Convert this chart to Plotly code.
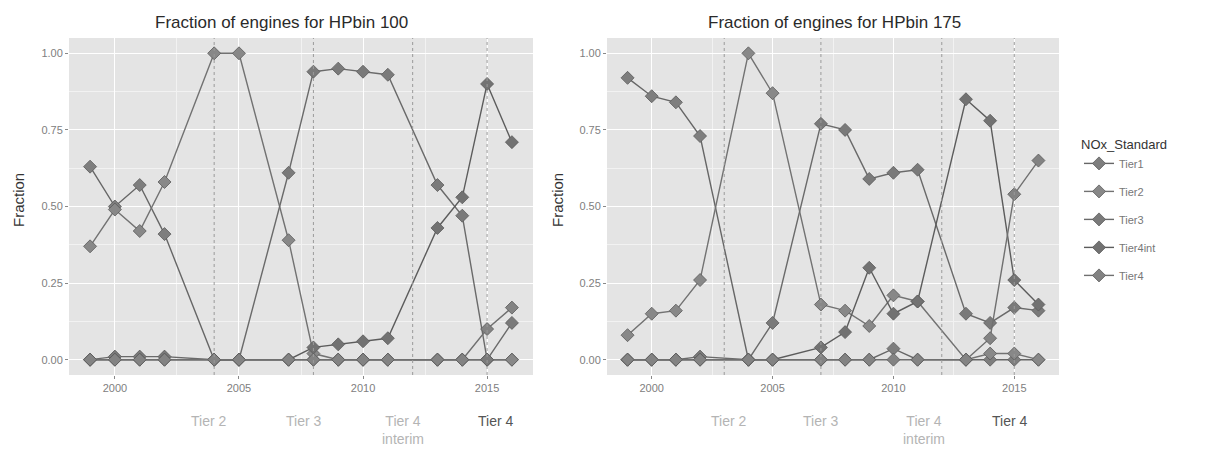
import plotly.graph_objects as go

# ---------------- data ----------------
years = [1999, 2000, 2001, 2002, 2004, 2005, 2007, 2008, 2009, 2010, 2011, 2013, 2014, 2015, 2016]
series_names = ["Tier1", "Tier2", "Tier3", "Tier4int", "Tier4"]

# HPbin 100
hp100_tier1 = [0.63, 0.50, 0.57, 0.41, 0.00, 0.00, 0.00, 0.00, 0.00, 0.00, 0.00, 0.00, 0.00, 0.00, 0.00]
hp100_tier2 = [0.37, 0.49, 0.42, 0.58, 1.00, 1.00, 0.39, 0.02, 0.00, 0.00, 0.00, 0.00, 0.00, 0.00, 0.00]
hp100_tier3 = [0.00, 0.01, 0.01, 0.01, 0.00, 0.00, 0.61, 0.94, 0.95, 0.94, 0.93, 0.57, 0.47, 0.00, 0.12]
hp100_tier4int = [0.00, 0.00, 0.00, 0.00, 0.00, 0.00, 0.00, 0.04, 0.05, 0.06, 0.07, 0.43, 0.53, 0.90, 0.71]
hp100_tier4 = [0.00, 0.00, 0.00, 0.00, 0.00, 0.00, 0.00, 0.00, 0.00, 0.00, 0.00, 0.00, 0.00, 0.10, 0.17]

# HPbin 175
hp175_tier1 = [0.92, 0.86, 0.84, 0.73, 0.00, 0.00, 0.00, 0.00, 0.00, 0.036, 0.00, 0.00, 0.00, 0.00, 0.00]
hp175_tier2 = [0.08, 0.15, 0.16, 0.26, 1.00, 0.87, 0.18, 0.16, 0.11, 0.21, 0.19, 0.00, 0.02, 0.02, 0.00]
hp175_tier3 = [0.00, 0.00, 0.00, 0.01, 0.00, 0.12, 0.77, 0.75, 0.59, 0.61, 0.62, 0.15, 0.12, 0.17, 0.16]
hp175_tier4int = [0.00, 0.00, 0.00, 0.00, 0.00, 0.00, 0.04, 0.09, 0.30, 0.15, 0.19, 0.85, 0.78, 0.26, 0.18]
hp175_tier4 = [0.00, 0.00, 0.00, 0.00, 0.00, 0.00, 0.00, 0.00, 0.00, 0.00, 0.00, 0.00, 0.07, 0.54, 0.65]

# regulation (tier) years marked with dashed lines
tier_years_100 = [2004, 2008, 2012, 2015]
tier_years_175 = [2003, 2007, 2012, 2015]
tier_labels = ["Tier 2", "Tier 3", "Tier 4<br>interim", "Tier 4"]

x_ticks = [2000, 2005, 2010, 2015]
y_ticks = [0.0, 0.25, 0.5, 0.75, 1.0]
y_ticklabels = ["0.00", "0.25", "0.50", "0.75", "1.00"]

titles = ["Fraction of engines for HPbin 100", "Fraction of engines for HPbin 175"]

# ---------------- styling ----------------
W, H = 1207, 456
FONT = "Liberation Sans, Arial, Helvetica, sans-serif"
line_cols = ["#666666", "#727272", "#6a6a6a", "#5c5c5c", "#707070"]
marker_cols = ["#7e7e7e", "#888888", "#7a7a7a", "#727272", "#838383"]

panel100 = [hp100_tier1, hp100_tier2, hp100_tier3, hp100_tier4int, hp100_tier4]
panel175 = [hp175_tier1, hp175_tier2, hp175_tier3, hp175_tier4int, hp175_tier4]

fig = go.Figure()

for i, name in enumerate(series_names):
    for vals, xa, ya, show in [(panel100[i], "x", "y", False),
                               (panel175[i], "x2", "y2", True)]:
        fig.add_trace(go.Scatter(
            x=years, y=vals, mode="lines+markers", name=name,
            legendgroup=name, showlegend=show,
            xaxis=xa, yaxis=ya,
            line=dict(color=line_cols[i], width=1.4),
            marker=dict(symbol="diamond", size=10, color=marker_cols[i],
                        line=dict(color="#5a5a5a", width=0.8)),
        ))

xdom1 = [69 / W, 533 / W]
xdom2 = [607 / W, 1059 / W]
ydom = [1 - 375 / H, 1 - 38 / H]

common_x = dict(range=[1998.15, 2016.85], tickvals=x_ticks, ticks="outside", ticklen=3,
                tickcolor="#888888", showgrid=True, gridcolor="#ffffff", gridwidth=1.2,
                zeroline=False, showline=False,
                minor=dict(dtick=2.5, tick0=2000, showgrid=True, gridcolor="#f2f2f2", gridwidth=0.6),
                tickfont=dict(family=FONT, size=11, color="#808080"))
common_y = dict(range=[-0.05, 1.05], tickvals=y_ticks, ticktext=y_ticklabels, ticks="outside",
                ticklen=3, tickcolor="#888888", showgrid=True, gridcolor="#ffffff", gridwidth=1.2,
                zeroline=False, showline=False,
                minor=dict(dtick=0.125, tick0=0, showgrid=True, gridcolor="#f2f2f2", gridwidth=0.6),
                tickfont=dict(family=FONT, size=11, color="#808080"))

fig.update_layout(
    width=W, height=H,
    margin=dict(l=0, r=0, t=0, b=0),
    paper_bgcolor="#ffffff", plot_bgcolor="#e4e4e4",
    xaxis=dict(domain=xdom1, anchor="y", **common_x),
    yaxis=dict(domain=ydom, anchor="x", **common_y),
    xaxis2=dict(domain=xdom2, anchor="y2", **common_x),
    yaxis2=dict(domain=ydom, anchor="x2", **common_y),
    legend=dict(
        x=1079 / W, y=1 - 132 / H, xanchor="left", yanchor="top",
        title=dict(text="NOx_Standard", font=dict(family=FONT, size=13, color="#333333")),
        font=dict(family=FONT, size=11, color="#777777"),
        tracegroupgap=9, itemwidth=30, bgcolor="rgba(0,0,0,0)",
    ),
    font=dict(family=FONT),
)

# dashed tier lines
for years_list, xref in [(tier_years_100, "x"), (tier_years_175, "x2")]:
    for ty in years_list:
        fig.add_shape(type="line", xref=xref, yref=xref.replace("x", "y") + " domain",
                      x0=ty, x1=ty, y0=0, y1=1,
                      line=dict(color="#9a9a9a", width=1, dash="dot"), layer="above")

# tier labels below axes
label_shift = {"x": [-6, -10, -10, 8], "x2": [4, 0, -18, -5]}
for years_list, xref in [(tier_years_100, "x"), (tier_years_175, "x2")]:
    for k, (ty, lab) in enumerate(zip(years_list, tier_labels)):
        last = k == len(tier_labels) - 1
        fig.add_annotation(x=ty, y=1 - 411 / H, xref=xref, yref="paper",
                           text=lab, showarrow=False, xshift=label_shift[xref][k],
                           xanchor="center", yanchor="top", align="center",
                           font=dict(family=FONT, size=14,
                                     color="#555555" if last else "#b4b4b4"))

# panel titles
for cx, t in zip([281, 834], titles):
    fig.add_annotation(x=cx / W, y=1 - 22 / H, xref="paper", yref="paper", text=t,
                       showarrow=False, xanchor="center", yanchor="middle",
                       font=dict(family=FONT, size=17, color="#2a2a2a"))

# y axis titles
for cx in [18, 557]:
    fig.add_annotation(x=cx / W, y=1 - 200 / H, xref="paper", yref="paper", text="Fraction",
                       showarrow=False, textangle=-90, xanchor="center", yanchor="middle",
                       font=dict(family=FONT, size=15, color="#333333"))

fig.write_html("out.html", config={"displayModeBar": False},
               post_script="document.body.style.margin='0';document.body.style.overflow='hidden';")
